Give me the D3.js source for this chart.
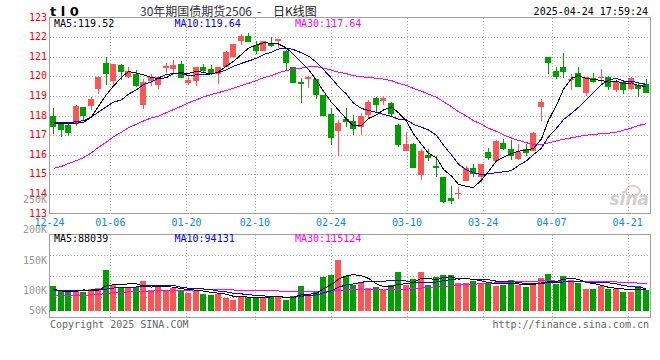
<!DOCTYPE html>
<html><head><meta charset="utf-8">
<script src="https://cdn.jsdelivr.net/npm/d3@7"></script>
<style>
html,body{margin:0;padding:0;background:#fff;}
svg{display:block;}
text{font-family:"DejaVu Sans Mono",monospace;font-size:10px;}
</style></head>
<body>
<svg id="chart" width="660" height="360"></svg>
<script>
const dates = ["12-24","12-25","12-26","12-27","12-30","12-31","01-02","01-03","01-06","01-07","01-08","01-09","01-10","01-13","01-14","01-15","01-16","01-17","01-20","01-21","01-22","01-23","01-24","01-27","02-05","02-06","02-07","02-10","02-11","02-12","02-13","02-14","02-17","02-18","02-19","02-20","02-21","02-24","02-25","02-26","02-27","02-28","03-03","03-04","03-05","03-06","03-07","03-10","03-11","03-12","03-13","03-14","03-17","03-18","03-19","03-20","03-21","03-24","03-25","03-26","03-27","03-28","03-31","04-01","04-02","04-03","04-07","04-08","04-09","04-10","04-11","04-14","04-15","04-16","04-17","04-18","04-21","04-22","04-23","04-24"];

const open = [117.98,117.56,117.51,117.56,118.41,118.46,119.34,120.70,119.77,120.57,
119.94,120.14,118.54,119.77,119.55,120.40,120.36,120.65,119.65,119.77,
120.45,120.36,120.14,120.48,120.96,121.78,122.06,121.61,121.30,121.69,
121.78,121.30,120.45,119.73,119.84,119.85,119.04,118.07,117.23,117.80,
117.74,117.40,118.05,118.88,118.73,118.63,117.54,116.21,116.57,114.96,
115.98,115.40,114.84,113.77,113.99,114.67,115.30,114.84,116.16,115.69,
116.62,116.27,115.77,116.28,116.20,118.41,120.96,120.28,120.45,119.84,
120.19,119.17,119.89,119.92,119.94,119.29,119.72,119.34,119.55,119.60];

const high = [118.37,117.60,117.56,118.54,118.44,118.92,119.94,120.96,120.65,120.62,
120.48,120.31,119.85,120.14,119.97,120.70,120.82,120.76,119.94,120.45,
120.65,120.57,120.48,121.30,121.67,122.15,122.23,121.81,121.81,122.01,
121.91,121.33,120.48,119.89,120.02,119.85,119.04,118.37,117.78,118.37,
118.03,118.12,118.77,118.93,119.02,118.68,117.58,117.18,116.62,116.28,
116.28,115.94,114.87,114.41,114.33,115.43,115.52,115.55,116.32,116.74,
116.79,116.74,116.54,116.54,117.18,118.83,120.99,120.45,121.21,120.14,
120.45,119.94,120.19,120.36,120.02,119.72,119.77,119.94,119.68,119.85];

const low = [117.05,116.91,116.93,117.44,117.76,118.29,119.12,119.55,119.55,119.80,
119.90,119.46,118.32,119.51,119.34,120.19,120.11,119.90,119.55,119.48,
120.19,120.07,119.60,120.45,120.93,121.61,121.76,121.13,121.30,121.50,
121.44,120.28,119.65,118.63,119.38,118.83,117.95,116.49,116.01,117.40,
116.98,117.03,117.80,118.20,118.56,117.91,116.38,116.21,115.31,114.70,
115.69,114.87,113.53,113.48,113.73,114.67,114.84,114.55,115.74,115.69,
116.23,115.72,115.72,115.94,116.20,117.73,120.11,119.85,119.90,119.29,
119.43,118.97,119.68,119.60,119.29,119.22,119.09,119.31,118.92,119.17];

const close = [117.39,117.25,117.10,118.51,117.97,118.83,119.94,120.11,120.65,120.23,
120.28,119.51,119.73,119.94,119.94,120.53,120.57,119.90,119.80,120.45,
120.28,120.14,120.48,121.23,121.67,122.08,121.76,121.27,121.78,121.57,
121.88,120.70,119.68,119.60,119.94,119.04,117.95,116.84,117.63,117.66,
117.29,117.98,118.68,118.56,118.88,118.09,116.47,116.56,115.31,116.20,
115.82,115.31,113.60,113.63,114.07,115.30,115.01,115.55,115.81,116.71,
116.28,115.94,116.15,116.11,117.13,118.71,120.70,119.94,120.24,119.87,
119.43,119.94,119.72,119.97,119.43,119.72,119.29,119.89,119.34,119.17];

const ma5 = [117.60,117.60,117.59,117.61,117.64,117.93,118.47,119.07,119.50,119.95,
120.24,120.16,120.08,119.94,119.88,119.93,120.14,120.18,120.15,120.25,
120.20,120.11,120.23,120.52,120.76,121.12,121.44,121.60,121.71,121.69,
121.65,121.44,121.12,120.69,120.36,119.79,119.24,118.67,118.28,117.82,
117.47,117.48,117.85,118.03,118.28,118.44,118.14,117.71,117.06,116.53,
116.07,115.84,115.25,114.91,114.49,114.38,114.32,114.71,115.15,115.68,
115.87,116.06,116.18,116.24,116.32,116.81,117.76,118.52,119.34,119.89,
120.04,119.88,119.84,119.79,119.70,119.76,119.63,119.66,119.53,119.48];

const ma10 = [117.63,117.63,117.64,117.68,117.74,117.92,118.18,118.45,118.68,118.80,
119.09,119.31,119.58,119.72,119.92,120.09,120.15,120.13,120.04,120.07,
120.07,120.13,120.20,120.33,120.51,120.66,120.78,120.92,121.11,121.23,
121.39,121.44,121.36,121.20,121.03,120.72,120.34,119.90,119.48,119.09,
118.63,118.36,118.26,118.16,118.05,117.96,117.81,117.78,117.55,117.40,
117.26,116.99,116.48,115.99,115.51,115.23,115.08,114.98,115.03,115.08,
115.13,115.19,115.45,115.69,116.00,116.34,116.91,117.35,117.79,118.11,
118.42,118.82,119.18,119.57,119.80,119.90,119.76,119.75,119.66,119.59];

const ma30 = [115.30,115.40,115.55,115.70,115.85,116.10,116.38,116.65,116.92,117.15,
117.38,117.56,117.72,117.88,117.97,118.15,118.30,118.48,118.65,118.80,
118.95,119.07,119.17,119.28,119.40,119.53,119.64,119.78,119.93,120.03,
120.18,120.29,120.38,120.42,120.48,120.49,120.42,120.31,120.21,120.13,
120.03,119.98,119.94,119.90,119.86,119.78,119.64,119.53,119.38,119.24,
119.09,118.93,118.70,118.45,118.19,117.97,117.74,117.55,117.35,117.19,
117.01,116.85,116.73,116.61,116.52,116.51,116.60,116.70,116.79,116.86,
116.93,117.00,117.03,117.08,117.10,117.15,117.25,117.36,117.49,117.59];

// volume in thousands of lots
const volumeK = [104.5,88.0,80.8,88.4,80.8,90.8,95.0,172.0,109.3,95.0,
95.0,98.8,125.4,88.4,109.3,83.6,95.0,88.4,77.0,88.4,
69.8,67.1,69.8,55.9,46.1,59.9,59.9,59.9,56.1,59.9,
64.2,46.1,64.2,104.5,71.3,85.2,143.5,151.1,213.8,146.3,
109.3,115.9,97.9,98.8,88.4,109.3,164.4,109.3,134.0,164.4,
109.3,140.6,151.1,151.1,115.9,118.8,125.4,118.8,113.1,104.5,
109.3,130.2,109.3,98.8,109.3,139.7,154.9,113.1,146.3,130.2,
115.9,92.2,92.2,104.5,92.2,92.2,80.8,80.8,104.5,88.4];

const volMa5K = [91,84,82,83,88.5,85.8,87.2,105.4,109.6,112.4,
113.3,114.0,104.7,100.5,103.4,101.1,100.3,92.9,90.7,86.5,
83.7,78.1,74.4,70.2,61.7,59.8,58.3,56.3,56.4,59.1,
60.0,57.2,58.1,67.8,70.1,74.3,93.7,111.1,133.0,148.0,
152.8,147.3,136.6,113.6,102.1,102.1,111.8,114.0,121.1,136.3,
136.3,131.5,139.9,143.3,133.6,135.5,132.5,126.0,118.4,116.1,
114.2,115.2,113.3,110.4,111.4,117.5,122.4,123.2,132.7,136.8,
132.1,119.5,115.4,107.0,99.4,94.7,92.4,90.1,90.1,89.3];

const volMa10K = [85,85,85,85,86,88,90,92,96,100.5,
99.5,100.6,105.1,105.1,107.9,107.2,107.2,98.8,95.6,94.9,
92.4,89.2,83.7,80.4,74.1,71.7,68.2,65.4,63.3,60.4,
59.9,57.8,57.2,62.1,64.6,67.1,75.5,84.6,100.4,109.0,
113.5,120.5,123.9,123.3,125.0,127.4,129.5,125.3,117.4,119.2,
119.2,121.6,127.0,132.2,134.9,135.9,132.0,132.9,130.9,124.9,
124.9,123.8,119.6,114.4,113.8,115.8,118.8,118.2,121.5,124.1,
124.8,121.0,119.3,119.8,118.1,113.4,106.0,102.7,98.6,94.4];

const volMa30K = [62.7,63.2,63.8,64.5,65.6,67.5,70.0,73.0,76.7,78.5,
80.0,81.5,82.6,83.5,84.3,85.1,85.9,86.5,87.0,87.5,
88.0,88.0,88.0,88.0,88.0,87.0,86.0,85.5,85.3,85.3,
83.9,82.5,82.0,82.5,82.2,82.0,83.6,82.9,86.4,88.1,
88.6,89.2,88.3,88.6,87.9,88.8,91.1,91.8,93.7,96.2,
97.5,100.0,102.7,105.9,108.2,110.2,112.3,114.3,116.2,117.7,
119.2,122.0,123.5,123.3,124.6,126.4,126.8,125.5,123.3,122.7,
122.9,122.1,122.0,122.1,122.3,121.7,118.9,118.0,117.0,114.4];

const priceTicks = [113,114,115,116,117,118,119,120,121,122,123];
const volTickValues = [50,100,150,200,250];
const volTickLabels = ["50K","100K","150K","200K","250K"];
const dateTicks = ["12-24","01-06","01-20","02-10","02-24","03-10","03-24","04-07","04-21"];
const titleText = "30年期国债期货2506";
const titleDash = "-";
const titleKind = "日K线图";
const symbolText = "t l 0";
const stampText = "2025-04-24 17:59:24";
const priceMaLabels = ["MA5:119.52","MA10:119.64","MA30:117.64"];
const volMaLabels = ["MA5:88039","MA10:94131","MA30:115124"];

// ---------- layout ----------
const svg = d3.select("#chart");
const L = 49.5, R = 650.5;
const mainTop = 17.5, mainBot = 213.5;
const volTop = 234.5, volBot = 317.5;
const RED = "#ff5555", GREEN = "#009f00";
const GRID = "#a8a8a8", BORDER = "#a0a0a0";

const idx = d3.range(dates.length);
const x = d3.scaleBand().domain(dates).range([49.25, 649.25]).paddingInner(0.2).paddingOuter(0.1);
const xg = d3.scalePoint().domain(dates).range([L, R]);
const y = d3.scaleLinear().domain([113, 123]).range([mainBot, mainTop]);
const yv = d3.scaleLinear().domain([0, 300]).range([311, 239.4]);
const yvLab = d3.scaleLinear().domain([50, 100, 250]).range([310, 290.5, 199.5]);
const yvGrid = d3.scaleLinear().domain([0, 4]).range([volTop, volBot]);

const bx = i => Math.round(x(dates[i]));
const cx = i => bx(i) + 3.5;
const colorOf = i => close[i] >= open[i] ? RED : GREEN;

// ---------- grids ----------
const g = svg.append("g");
// horizontal price grid
g.selectAll(".hg").data(priceTicks.slice(1, -1)).join("line")
  .attr("x1", L).attr("x2", R)
  .attr("y1", d => Math.round(y(d)) + 0.5).attr("y2", d => Math.round(y(d)) + 0.5)
  .attr("stroke", GRID).attr("stroke-dasharray", "1,2").attr("shape-rendering", "crispEdges");
// horizontal volume grid
g.selectAll(".vg").data([1, 2, 3]).join("line")
  .attr("x1", L).attr("x2", R)
  .attr("y1", d => Math.round(yvGrid(d)) + 0.5).attr("y2", d => Math.round(yvGrid(d)) + 0.5)
  .attr("stroke", GRID).attr("stroke-dasharray", "1,2").attr("shape-rendering", "crispEdges");
// vertical grid
const vt = dateTicks.slice(1);
g.selectAll(".xg1").data(vt).join("line")
  .attr("x1", d => Math.round(xg(d)) + 0.5).attr("x2", d => Math.round(xg(d)) + 0.5)
  .attr("y1", mainTop).attr("y2", mainBot)
  .attr("stroke", GRID).attr("stroke-dasharray", "1,2").attr("shape-rendering", "crispEdges");
g.selectAll(".xg2").data(vt).join("line")
  .attr("x1", d => Math.round(xg(d)) + 0.5).attr("x2", d => Math.round(xg(d)) + 0.5)
  .attr("y1", volTop).attr("y2", volBot + 4)
  .attr("stroke", GRID).attr("stroke-dasharray", "1,2").attr("shape-rendering", "crispEdges");

// borders
[[mainTop, mainBot], [volTop, volBot]].forEach(([t, b]) => {
  svg.append("rect").attr("x", L).attr("y", t).attr("width", R - L).attr("height", b - t)
    .attr("fill", "none").attr("stroke", BORDER).attr("shape-rendering", "crispEdges");
});

// watermark
const wm = svg.append("g");
wm.append("ellipse").attr("cx", 633).attr("cy", 191).attr("rx", 7).attr("ry", 5)
  .attr("fill", "none").attr("stroke", "#f3c4c4").attr("stroke-width", 2);
wm.append("text").attr("x", 649).attr("y", 205).attr("text-anchor", "end")
  .style("font-family", "DejaVu Sans").style("font-size", "17px").style("font-weight", "bold")
  .style("font-style", "italic").attr("fill", "#cfcfcf").text("sina");

// ---------- candles ----------
const cg = svg.append("g").attr("shape-rendering", "crispEdges");
cg.selectAll(".wick").data(idx).join("line")
  .attr("x1", cx).attr("x2", cx)
  .attr("y1", i => y(high[i])).attr("y2", i => y(low[i]))
  .attr("stroke", colorOf);
cg.selectAll(".body").data(idx).join("rect")
  .attr("x", bx)
  .attr("width", Math.round(x.bandwidth()))
  .attr("y", i => y(Math.max(open[i], close[i])))
  .attr("height", i => Math.max(1, Math.abs(y(open[i]) - y(close[i]))))
  .attr("fill", colorOf);

// MA lines (price)
const lineP = arr => d3.line().x(i => cx(i)).y(i => y(arr[i]))(idx);
[[ma30, "#ff00ff"], [ma10, "#0000ff"], [ma5, "#000000"]].forEach(([arr, c]) => {
  svg.append("path").attr("d", lineP(arr)).attr("fill", "none").attr("stroke", c)
    .attr("stroke-width", 1).attr("shape-rendering", "crispEdges");
});

// ---------- volume ----------
const vg = svg.append("g").attr("shape-rendering", "crispEdges");
vg.selectAll(".vb").data(idx).join("rect")
  .attr("x", bx).attr("width", Math.round(x.bandwidth()))
  .attr("y", i => yv(volumeK[i]))
  .attr("height", i => yv(0) - yv(volumeK[i]))
  .attr("fill", colorOf);
const lineV = arr => d3.line().x(i => cx(i)).y(i => yv(arr[i]))(idx);
[[volMa30K, "#ff00ff"], [volMa10K, "#0000ff"], [volMa5K, "#000000"]].forEach(([arr, c]) => {
  svg.append("path").attr("d", lineV(arr)).attr("fill", "none").attr("stroke", c)
    .attr("stroke-width", 1).attr("shape-rendering", "crispEdges");
});

// ---------- texts ----------
// price axis labels
svg.selectAll(".pl").data(priceTicks).join("text")
  .attr("x", 47).attr("y", d => y(d) - 0.5).attr("dy", "0.35em")
  .attr("text-anchor", "end").attr("fill", "#ff0000").text(d => d);
// volume axis labels
svg.selectAll(".vl").data(volTickValues).join("text")
  .attr("x", 47).attr("y", d => yvLab(d)).attr("dy", "0.35em")
  .attr("text-anchor", "end").attr("fill", "#9a9a9a")
  .text((d, k) => volTickLabels[k]);
// date labels
svg.selectAll(".dl").data(dateTicks).join("text")
  .attr("x", d => xg(d)).attr("y", 225.5).attr("text-anchor", "middle")
  .attr("fill", "#1188d4").text(d => d);

// header
svg.append("text").attr("x", 50).attr("y", 16)
  .style("font-family", "DejaVu Sans").style("font-size", "13px").style("font-weight", "bold")
  .attr("fill", "#000").text(symbolText);
svg.append("text").attr("x", 140).attr("y", 15.5)
  .style("font-family", "'Noto Sans CJK SC'").style("font-size", "12px")
  .attr("fill", "#333").text(titleText);
svg.append("text").attr("x", 257).attr("y", 15.5)
  .style("font-family", "'Noto Sans CJK SC'").style("font-size", "12px")
  .attr("fill", "#333").text(titleDash);
svg.append("text").attr("x", 273).attr("y", 15.5)
  .style("font-family", "'Noto Sans CJK SC'").style("font-size", "12px")
  .attr("fill", "#222").text(titleKind);
svg.append("text").attr("x", 648).attr("y", 15).attr("text-anchor", "end")
  .attr("fill", "#000").text(stampText);

const maColors = ["#000000", "#0000ff", "#ff00ff"];
const maX = [54, 174.5, 295];
svg.selectAll(".pma").data(priceMaLabels).join("text")
  .attr("x", (d, k) => maX[k]).attr("y", 26.5).attr("fill", (d, k) => maColors[k]).text(d => d);
svg.selectAll(".vma").data(volMaLabels).join("text")
  .attr("x", (d, k) => maX[k]).attr("y", 241.5).attr("fill", (d, k) => maColors[k]).text(d => d);

// footer
svg.append("text").attr("x", 50).attr("y", 327.5).attr("fill", "#666").text("Copyright 2025 SINA.COM");
svg.append("text").attr("x", 649).attr("y", 327.5).attr("text-anchor", "end").attr("fill", "#666")
  .text("http://finance.sina.com.cn");
</script>
</body></html>
